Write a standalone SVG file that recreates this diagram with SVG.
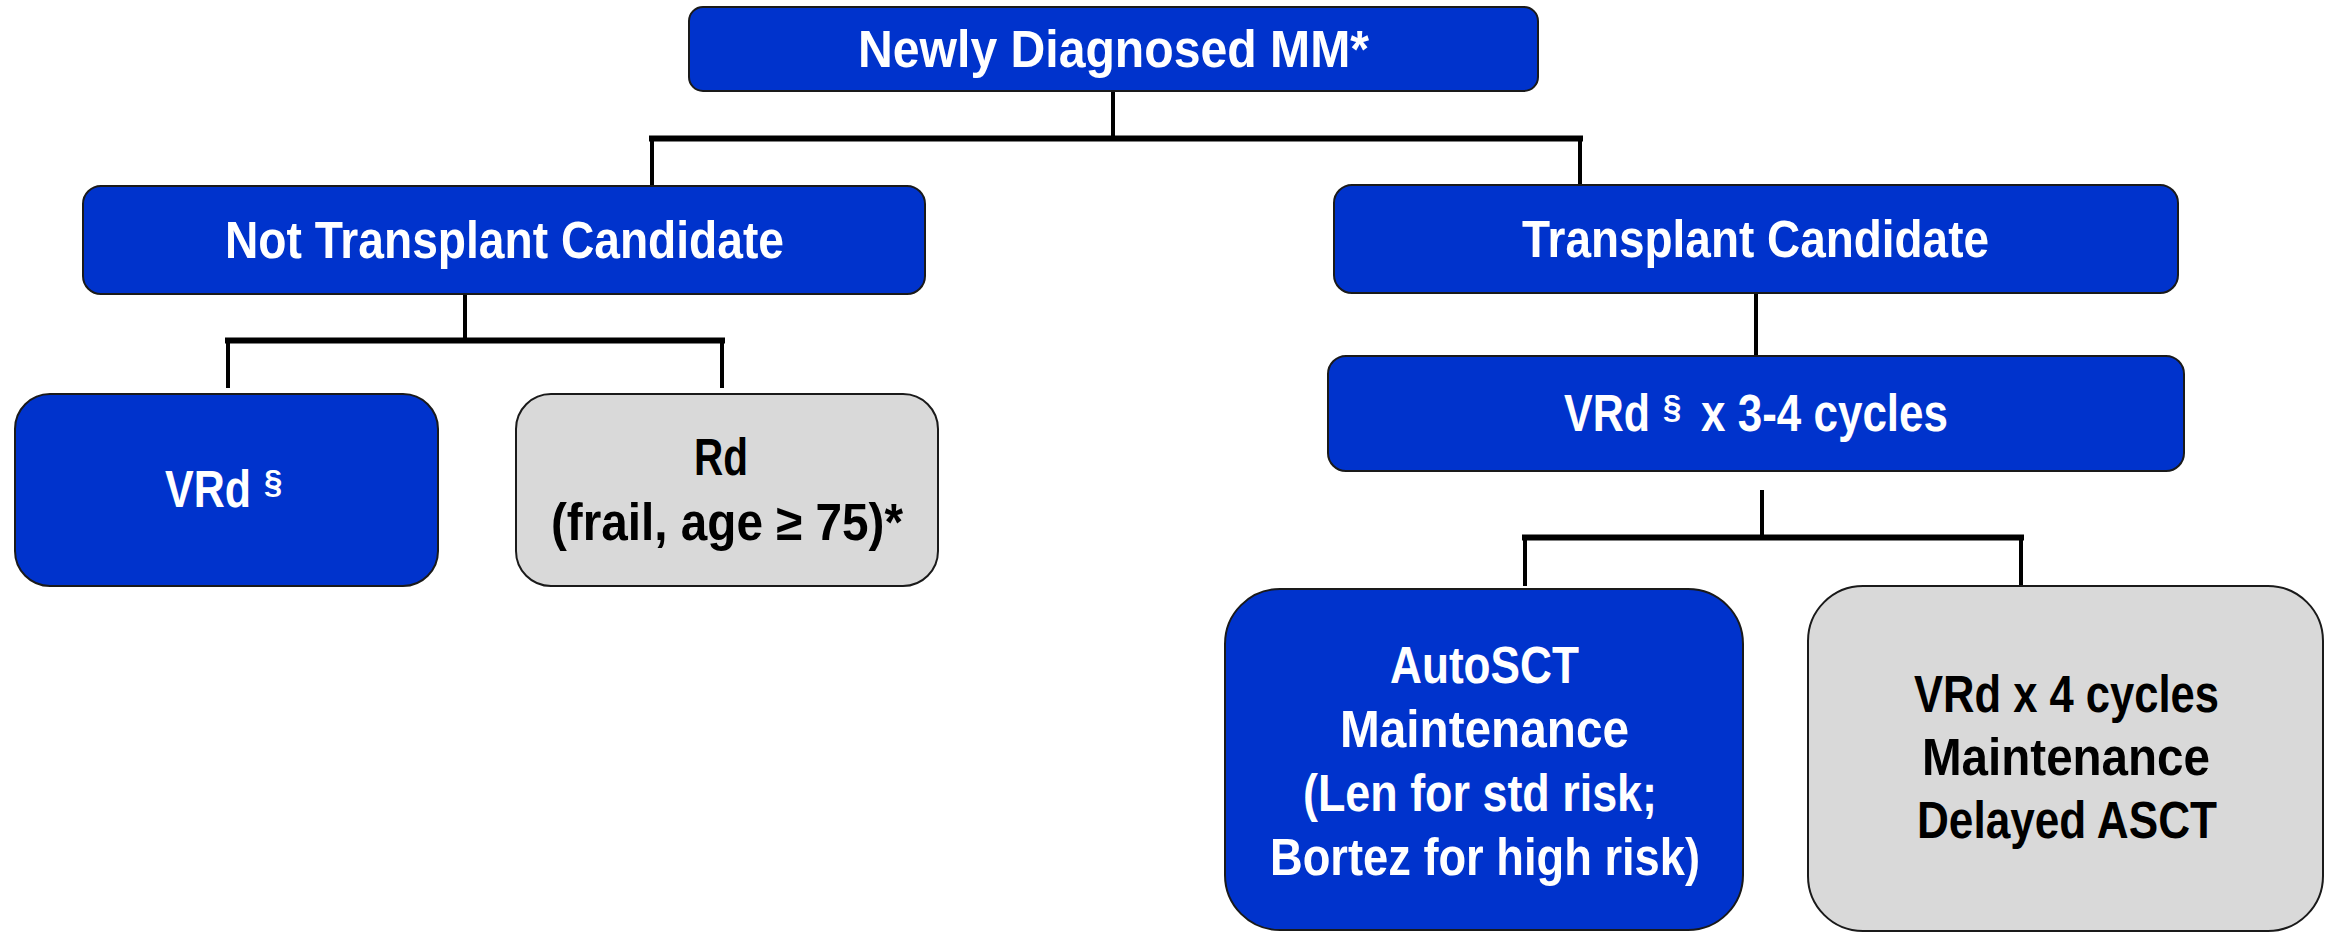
<svg xmlns="http://www.w3.org/2000/svg" width="2325" height="932" viewBox="0 0 2325 932">
<style>
.blue{fill:#0033cc;stroke:#1a1a1a;stroke-width:2}
.gray{fill:#d9d9d9;stroke:#1a1a1a;stroke-width:2}
.t{font-family:"Liberation Sans",Arial,sans-serif;font-weight:bold;font-size:51px}
.w{fill:#ffffff}
.k{fill:#000000}
.sup{font-size:33px}
.v{stroke:#000;stroke-width:4;fill:none}
.h{stroke:#000;stroke-width:6;fill:none;stroke-linecap:square}
</style>
<rect width="2325" height="932" fill="#ffffff"/>
<g id="connectors">
<line class="v" x1="1113" y1="91" x2="1113" y2="138"/>
<line class="h" x1="652" y1="138.5" x2="1580" y2="138.5"/>
<line class="v" x1="652" y1="138" x2="652" y2="186"/>
<line class="v" x1="1580" y1="138" x2="1580" y2="186"/>
<line class="v" x1="465" y1="294" x2="465" y2="341"/>
<line class="h" x1="228" y1="340.5" x2="722" y2="340.5"/>
<line class="v" x1="228" y1="340" x2="228" y2="388"/>
<line class="v" x1="722" y1="340" x2="722" y2="388"/>
<line class="v" x1="1756" y1="293" x2="1756" y2="356"/>
<line class="v" x1="1762" y1="490" x2="1762" y2="538"/>
<line class="h" x1="1525" y1="537.5" x2="2021" y2="537.5"/>
<line class="v" x1="1525" y1="537" x2="1525" y2="586"/>
<line class="v" x1="2021" y1="537" x2="2021" y2="586"/>
</g>
<g id="newly">
<rect class="blue" x="689" y="7" width="849" height="84" rx="14"/>
<text class="t w" x="858" y="67" textLength="511" lengthAdjust="spacingAndGlyphs">Newly Diagnosed MM*</text>
</g>
<g id="not-transplant">
<rect class="blue" x="83" y="186" width="842" height="108" rx="18"/>
<text class="t w" x="225" y="258" textLength="559" lengthAdjust="spacingAndGlyphs">Not Transplant Candidate</text>
</g>
<g id="transplant">
<rect class="blue" x="1334" y="185" width="844" height="108" rx="18"/>
<text class="t w" x="1522" y="257" textLength="467" lengthAdjust="spacingAndGlyphs">Transplant Candidate</text>
</g>
<g id="vrd-left">
<rect class="blue" x="15" y="394" width="423" height="192" rx="35"/>
<text class="t w" x="165" y="507" textLength="86" lengthAdjust="spacingAndGlyphs">VRd</text>
<text class="t w sup" x="264" y="493">§</text>
</g>
<g id="rd">
<rect class="gray" x="516" y="394" width="422" height="192" rx="35"/>
<text class="t k" x="694" y="475" textLength="54" lengthAdjust="spacingAndGlyphs">Rd</text>
<text class="t k" x="551" y="540" textLength="352" lengthAdjust="spacingAndGlyphs">(frail, age ≥ 75)*</text>
</g>
<g id="vrd-induction">
<rect class="blue" x="1328" y="356" width="856" height="115" rx="18"/>
<text class="t w" x="1564" y="431" textLength="86" lengthAdjust="spacingAndGlyphs">VRd</text>
<text class="t w sup" x="1663" y="418">§</text>
<text class="t w" x="1701" y="431" textLength="247" lengthAdjust="spacingAndGlyphs">x 3-4 cycles</text>
</g>
<g id="autosct">
<rect class="blue" x="1225" y="589" width="518" height="341" rx="55"/>
<text class="t w" x="1390" y="683" textLength="189" lengthAdjust="spacingAndGlyphs">AutoSCT</text>
<text class="t w" x="1340" y="747" textLength="289" lengthAdjust="spacingAndGlyphs">Maintenance</text>
<text class="t w" x="1303" y="811" textLength="354" lengthAdjust="spacingAndGlyphs">(Len for std risk;</text>
<text class="t w" x="1270" y="875" textLength="430" lengthAdjust="spacingAndGlyphs">Bortez for high risk)</text>
</g>
<g id="delayed">
<rect class="gray" x="1808" y="586" width="515" height="345" rx="55"/>
<text class="t k" x="1914" y="712" textLength="305" lengthAdjust="spacingAndGlyphs">VRd x 4 cycles</text>
<text class="t k" x="1922" y="775" textLength="288" lengthAdjust="spacingAndGlyphs">Maintenance</text>
<text class="t k" x="1917" y="838" textLength="300" lengthAdjust="spacingAndGlyphs">Delayed ASCT</text>
</g>
</svg>
